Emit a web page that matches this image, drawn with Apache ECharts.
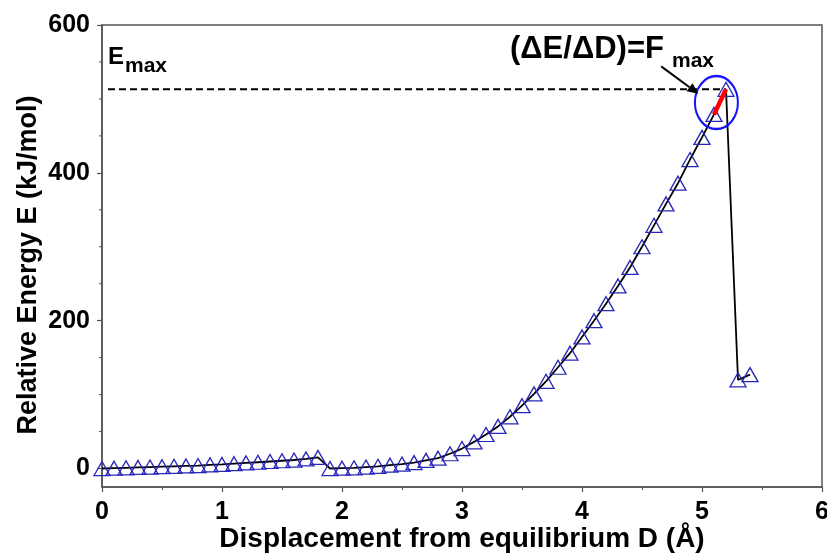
<!DOCTYPE html>
<html>
<head>
<meta charset="utf-8">
<script src="https://cdn.jsdelivr.net/npm/echarts@6/dist/echarts.min.js"></script>
<style>html,body{margin:0;padding:0;background:#fff}#c{width:827px;height:553px}</style>
</head>
<body>
<div id="c"></div>
<script>
// ---- data ----
var dispD = [0.0,0.1,0.2,0.3,0.4,0.5,0.6,0.7,0.8,0.9,1.0,1.1,1.2,1.3,1.4,1.5,1.6,1.7,1.8,
             1.9,2.0,2.1,2.2,2.3,2.4,2.5,2.6,2.7,2.8,2.9,3.0,3.1,3.2,3.3,3.4,3.5,3.6,3.7,3.8,3.9,
             4.0,4.1,4.2,4.3,4.4,4.5,4.6,4.7,4.8,4.9,5.0,5.1,5.2,5.3,5.4];
var energyE = [0,0.5,1,1.5,2,2.5,3,3.5,4,5,5.5,6.5,7.5,8.5,9.5,10.5,11.5,13,15,
               0,0.5,1,2,3,4.5,6,8,11,14,20,27,36,46,57,70,85,101,118,137,156,
               178,200,223,247,272,300,329,358,386,418,448,479,513,120,127];
var xTicks = [0,1,2,3,4,5,6];
var yTicks = [0,200,400,600];
var yMinor = [50,100,150,250,300,350,450,500,550];
var eMax = 513;
var eMaxFrom = 0.05;
var slopeIdx = [51,52];           // indices of points used for (dE/dD) = Fmax
var circleCenter = [5.12, 495];   // annotation anchor (data coords)
var arrowFrom = [4.66, 544];
var arrowTo = [4.97, 507];

var pts = dispD.map(function(d,i){return [d, energyE[i]];});
var slopePts = slopeIdx.map(function(i){return [dispD[i], energyE[i]];});

var chart = echarts.init(document.getElementById('c'));
var FONT = '"Liberation Sans", Arial, sans-serif';
chart.setOption({
  animation: false,
  backgroundColor: '#fff',
  grid: {left: 102, right: 5, top: 25, bottom: 66, show: true, borderColor: '#555', borderWidth: 1.5,
         containLabel: false, outerBoundsMode: 'none'},
  xAxis: {
    type: 'value', min: 0, max: 6, interval: 1,
    axisLine: {show: true, onZero: false, lineStyle: {color: '#555', width: 1.5}},
    axisTick: {show: true, inside: false, length: 5, lineStyle: {color: '#555', width: 1.2}},
    minorTick: {show: true, splitNumber: 2, length: 3, lineStyle: {color: '#555', width: 1}},
    splitLine: {show: false},
    axisLabel: {color: '#000', fontFamily: FONT, fontWeight: 'bold', fontSize: 25, margin: 13},
    name: 'Displacement from equilibrium D (Å)', nameLocation: 'middle', nameGap: 38,
    nameMoveOverlap: false,
    nameTextStyle: {color: '#000', fontFamily: FONT, fontWeight: 'bold', fontSize: 28}
  },
  yAxis: {
    type: 'value', min: -25, max: 600,
    axisLabel: {color: '#000', fontFamily: FONT, fontWeight: 'bold', fontSize: 25, margin: 12,
      customValues: yTicks},
    axisTick: {show: true, length: 5, lineStyle: {color: '#555', width: 1.2}, customValues: yTicks},
    minorTick: {show: false},
    axisLine: {show: true, onZero: false, lineStyle: {color: '#555', width: 1.5}},
    splitLine: {show: false},
    name: 'Relative Energy E (kJ/mol)', nameLocation: 'middle', nameGap: 60,
    nameMoveOverlap: false,
    nameTextStyle: {color: '#000', fontFamily: FONT, fontWeight: 'bold', fontSize: 27, padding: [0, 18, 0, 0]}
  },
  series: [
    {
      type: 'line', data: [[eMaxFrom, eMax],[dispD[slopeIdx[1]], eMax]], symbol: 'none',
      lineStyle: {color: '#000', width: 2, type: [7,4]}, z: 1, silent: true
    },
    {
      type: 'line', data: pts, symbol: 'triangle', symbolSize: [16,14],
      lineStyle: {color: '#000', width: 1.8},
      itemStyle: {color: 'rgba(0,0,0,0)', borderColor: '#2727b8', borderWidth: 1.3},
      z: 3
    },
    {
      type: 'line', data: slopePts, symbol: 'none',
      lineStyle: {color: '#ff0000', width: 4.5}, z: 5
    }
  ]
});

function px(p){ return chart.convertToPixel({gridIndex: 0}, p); }
var c = px(circleCenter);
var a0 = px(arrowFrom), a1 = px(arrowTo);
var ang = Math.atan2(a1[1]-a0[1], a1[0]-a0[0]);
var hl = 11, hw = 5;
var bx = a1[0] - hl*Math.cos(ang), by = a1[1] - hl*Math.sin(ang);
var head = [[a1[0],a1[1]],[bx + hw*Math.sin(ang), by - hw*Math.cos(ang)],[bx - hw*Math.sin(ang), by + hw*Math.cos(ang)]];

var minorEls = yMinor.map(function(v){
  var p = px([0, v]);
  return {type: 'line', shape: {x1: p[0]-3, y1: p[1], x2: p[0], y2: p[1]}, style: {stroke: '#555', lineWidth: 1}, silent: true};
});

chart.setOption({
  graphic: minorEls.concat([
    {type: 'circle', x: c[0], y: c[1], scaleX: 21.5/26.5, shape: {cx: 0, cy: 0, r: 26.5},
     style: {fill: 'none', stroke: '#1414ff', lineWidth: 2.5}, z: 10},
    {type: 'line', shape: {x1: a0[0], y1: a0[1], x2: bx, y2: by}, style: {stroke: '#000', lineWidth: 2}, z: 10},
    {type: 'polygon', shape: {points: head}, style: {fill: '#000'}, z: 10},
    {type: 'text', x: 108, y: 45, style: {text: 'E', font: 'bold 24px ' + FONT, fill: '#000'}, z: 10},
    {type: 'text', x: 125, y: 56, style: {text: 'max', font: 'bold 21px ' + FONT, fill: '#000'}, z: 10},
    {type: 'text', x: 510, y: 34, style: {text: '(ΔE/ΔD)=F', font: 'bold 31px ' + FONT, fill: '#000'}, z: 10},
    {type: 'text', x: 672, y: 51, style: {text: 'max', font: 'bold 21px ' + FONT, fill: '#000'}, z: 10}
  ])
});
</script>
</body>
</html>
